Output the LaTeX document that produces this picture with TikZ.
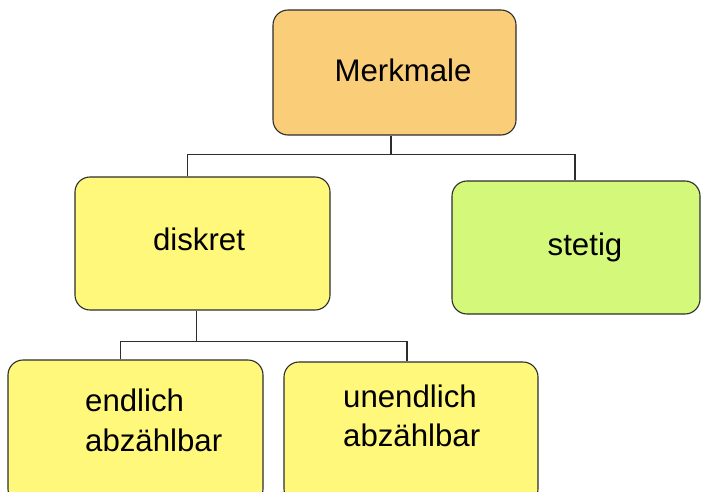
\documentclass[tikz,border=0pt]{standalone}
\usepackage{fontspec}
\setmainfont{Liberation Sans}
\usetikzlibrary{calc}
\definecolor{orangefill}{RGB}{250,205,120}
\definecolor{yellowfill}{RGB}{255,248,122}
\definecolor{greenfill}{RGB}{212,248,122}
\definecolor{edge}{RGB}{45,45,45}
\tikzset{
  box/.style={draw=edge, line width=1.1pt, rounded corners=15pt, inner sep=0pt},
  lbl/.style={anchor=base, inner sep=0pt, font=\fontsize{31.2}{40}\selectfont},
  lblw/.style={anchor=base west, inner sep=0pt, font=\fontsize{31.2}{40}\selectfont},
  conn/.style={draw=edge, line width=1.2pt}
}
\begin{document}
\begin{tikzpicture}[x=1pt,y=-1pt]
\useasboundingbox (0,0) rectangle (701,492);
\clip (0,0) rectangle (701,492);
\node[box, fill=orangefill, minimum width=243pt, minimum height=125pt] (m) at (394.5,72.5) {};
\node[box, fill=yellowfill, minimum width=255pt, minimum height=133pt] (d) at (202.5,243.5) {};
\node[box, fill=greenfill, minimum width=248pt, minimum height=133pt] (s) at (576,247.5) {};
\node[box, fill=yellowfill, minimum width=255pt, minimum height=144pt] (e) at (135.5,432) {};
\node[box, fill=yellowfill, minimum width=254pt, minimum height=142pt] (u) at (411,433) {};
\node[lbl] (mt) at (403,82) {Merkmale};
\node[lbl] (dt) at (199,250) {diskret};
\node[lbl] (st) at (585,255) {stetig};
\node[lblw] (et1) at (85,411) {endlich};
\node[lblw] (et2) at (85,451) {abzählbar};
\node[lblw] (ut1) at (343,407) {unendlich};
\node[lblw] (ut2) at (343,446) {abzählbar};
\draw[conn] ($(m.south west)!0.486!(m.south east)$) -- ++(0,19) coordinate (j1);
\draw[conn] ($(d.north west)!0.44!(d.north east)$) |- (j1) -| ($(s.north west)!0.496!(s.north east)$);
\draw[conn] ($(d.south west)!0.478!(d.south east)$) -- ++(0,31) coordinate (j2);
\draw[conn] ($(e.north west)!0.44!(e.north east)$) |- (j2) -| ($(u.north west)!0.484!(u.north east)$);
\end{tikzpicture}
\end{document}
